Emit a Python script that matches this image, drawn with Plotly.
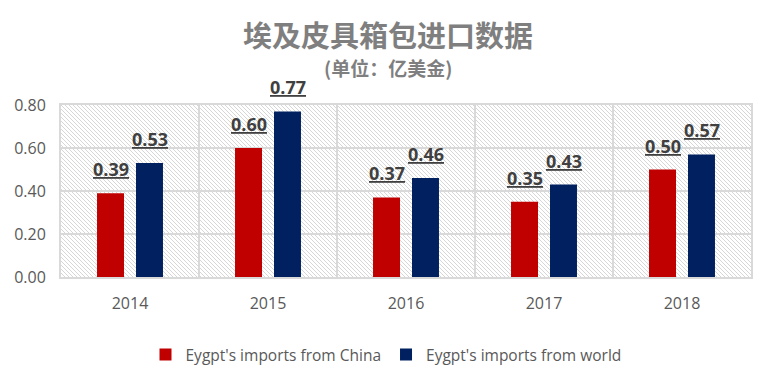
import base64
import plotly.graph_objects as go

years = ["2014", "2015", "2016", "2017", "2018"]
china = [0.39, 0.60, 0.37, 0.35, 0.50]
world = [0.53, 0.77, 0.46, 0.43, 0.57]
series_names = ["Eygpt's imports from China", "Eygpt's imports from world"]
colors = ["#C00000", "#002060"]

W, H = 774, 385
ML, MR, MT, MB = 61, 23, 105, 108
PW, PH = W - ML - MR, H - MT - MB


def px_to_paper_y(py):
    return (MT + PH - py) / PH


def px_to_paper_x(px):
    return (px - ML) / PW


# hatch background image for plot area
svg = (
    f"<svg xmlns='http://www.w3.org/2000/svg' width='{PW}' height='{PH}'>"
    "<defs><pattern id='p' width='4' height='4' patternUnits='userSpaceOnUse'>"
    "<path d='M0,0 L4,4 M-1,3 L1,5 M3,-1 L5,1' stroke='#d6d6d6' stroke-width='1'/>"
    "</pattern></defs>"
    "<rect width='100%' height='100%' fill='white'/>"
    "<rect width='100%' height='100%' fill='url(#p)'/></svg>"
)
img_src = "data:image/svg+xml;base64," + base64.b64encode(svg.encode()).decode()

xs = list(range(len(years)))
fig = go.Figure()
for name, vals, col in zip(series_names, [china, world], colors):
    fig.add_trace(go.Bar(x=xs, y=vals, name=name, marker=dict(color=col, line=dict(width=0))))

off = 0.1413
annotations = []
for vals, o in [(china, -off), (world, off)]:
    for i, v in enumerate(vals):
        annotations.append(dict(
            x=i + o, y=v, xref="x", yref="y", text=f"<b><u>{v:.2f}</u></b>",
            showarrow=False, yanchor="bottom", xanchor="center", yshift=10,
            font=dict(family="Open Sans", size=18, color="#404040")))

annotations.append(dict(x=px_to_paper_x(388), y=px_to_paper_y(34), xref="paper", yref="paper",
                        text="<b>埃及皮具箱包进口数据</b>", showarrow=False,
                        xanchor="center", yanchor="middle",
                        font=dict(family="Noto Sans CJK SC", size=29, color="#7f7f7f")))
annotations.append(dict(x=px_to_paper_x(388), y=px_to_paper_y(67), xref="paper", yref="paper",
                        text="<b>(单位：亿美金)</b>", showarrow=False,
                        xanchor="center", yanchor="middle",
                        font=dict(family="Noto Sans CJK SC", size=19, color="#7f7f7f")))

fig.update_layout(
    width=W, height=H,
    margin=dict(l=ML, r=MR, t=MT, b=MB, autoexpand=False),
    paper_bgcolor="white", plot_bgcolor="white",
    barmode="group", bargap=0.435, bargroupgap=0.308,
    font=dict(family="Open Sans", size=16, color="#595959"),
    showlegend=True,
    legend=dict(orientation="h", x=px_to_paper_x(386), xanchor="center", y=px_to_paper_y(355),
                yanchor="middle", font=dict(family="Open Sans", size=15.5, color="#595959"),
                itemwidth=30, traceorder="normal"),
    annotations=annotations,
    images=[dict(source=img_src, xref="paper", yref="paper", x=0, y=1, sizex=1, sizey=1,
                 xanchor="left", yanchor="top", sizing="stretch", layer="below")],
    hovermode=False,
)
fig.update_xaxes(
    range=[-0.5, 4.5], tickvals=xs, ticktext=years, showgrid=False, automargin=False,
    showline=True, mirror=True, linecolor="#d9d9d9", linewidth=2,
    ticks="", ticklabelstandoff=11, tickfont=dict(family="Open Sans", size=16, color="#595959"),
    minor=dict(tick0=0.5, dtick=1, showgrid=True, gridcolor="#d9d9d9", gridwidth=2, ticks=""),
    zeroline=False,
)
fig.update_yaxes(
    range=[0, 0.8], dtick=0.2, tickformat=".2f", showgrid=True, automargin=False,
    gridcolor="#d9d9d9", gridwidth=2, showline=True, mirror=True,
    linecolor="#d9d9d9", linewidth=2, zeroline=False, ticks="",
    ticklabelstandoff=10, tickfont=dict(family="Open Sans", size=16, color="#595959"),
)

fig.write_html("out.html", config={"displayModeBar": False, "staticPlot": True},
               post_script="document.body.style.margin='0';document.body.style.padding='0';")
